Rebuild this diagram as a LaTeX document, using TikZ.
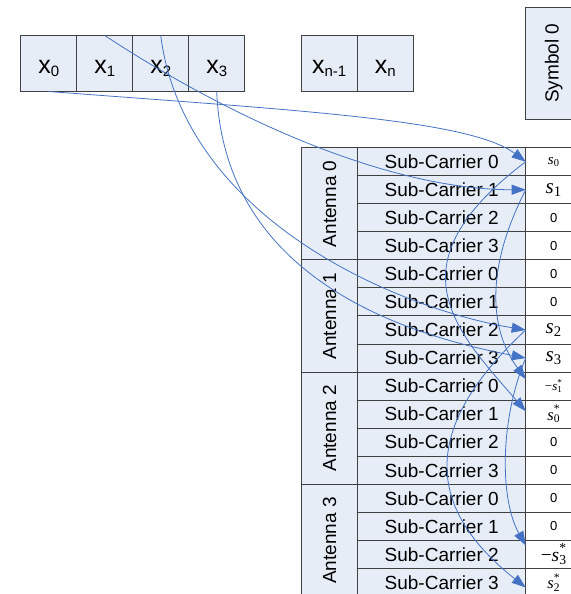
\documentclass[tikz,border=0pt]{standalone}
\usepackage{fontspec}
\setmainfont{Liberation Sans}
\newfontfamily\valfont{Liberation Serif}
\usetikzlibrary{arrows.meta}
\definecolor{cellfill}{RGB}{231,237,247}
\definecolor{cellline}{RGB}{64,64,64}
\definecolor{mapblue}{RGB}{68,114,196}
\newcommand{\xsub}[1]{x\raisebox{-3pt}{\fontsize{15}{15}\selectfont #1}}
% size, sign, index, star
\newcommand{\sval}[4]{{\valfont\fontsize{#1}{#1}\selectfont
  #2\textit{s}\makebox[0pt][l]{\raisebox{1pt}{\textsuperscript{#4}}}\textsubscript{#3}}}
\tikzset{
  cell/.style={draw=cellline,line width=1pt,fill=cellfill,inner sep=0pt,outer sep=0pt},
  xbox/.style={cell,minimum width=56pt,minimum height=56pt,
    text height=22pt,text depth=2pt,font=\fontsize{25}{30}\selectfont},
  carrier/.style={cell,minimum width=168pt,minimum height=28.05pt,
    font=\fontsize{19}{22}\selectfont},
  antenna/.style={cell,minimum width=112.2pt,minimum height=56pt,rotate=90,
    font=\fontsize{19}{22}\selectfont},
  value/.style={cell,fill=white,minimum width=56pt,minimum height=28.05pt,
    font=\fontsize{13}{15}\selectfont},
  mapping/.style={draw=mapblue,line width=0.8pt,-{Triangle[length=14pt,width=10pt]}}
}
\begin{document}
\begin{tikzpicture}[x=1pt,y=-1pt]
  \useasboundingbox (0,0) rectangle (570,594);
  % input symbols
  \node[xbox] (x0) at (48.7,63.5) {\xsub{0}};
  \node[xbox] (x1) at (104.7,63.5) {\xsub{1}};
  \node[xbox] (x2) at (160.7,63.5) {\xsub{2}};
  \node[xbox] (x3) at (216.7,63.5) {\xsub{3}};
  \node[xbox] (xn1) at (329.2,63.5) {\xsub{n-1}};
  \node[xbox] (xn) at (385.2,63.5) {\xsub{n}};
  \node[cell,minimum width=112pt,minimum height=56pt,rotate=90,
    font=\fontsize{19}{22}\selectfont] (sym) at (553.7,63.2) {Symbol 0};
  % antennas and sub-carriers
  \foreach \a in {0,...,3}
    \node[antenna] (ant\a) at (329.7,{203.8+112.2*\a}) {Antenna \a};
  \foreach \k in {0,...,15} {
    \pgfmathtruncatemacro{\sc}{mod(\k,4)}
    \node[carrier] (sc\k) at (441.7,{161.7+28.05*\k}) {Sub-Carrier \sc};
  }
  \foreach \k/\val in {0/\sval{15}{}{0}{},1/\sval{21}{}{1}{},2/0,3/0,4/0,5/0,
      6/\sval{21}{}{2}{},7/\sval{21}{}{3}{},8/\sval{13}{−}{1}{*},
      9/\sval{16.5}{}{0}{*},10/0,11/0,12/0,13/0,14/\sval{19.5}{−}{3}{*},
      15/\sval{16.5}{}{2}{*}}
    \node[value] (v\k) at (553.7,{161.7+28.05*\k}) {\val};
  % mapping of the inputs
  \draw[mapping] (x0.south) .. controls +(251,19) and +(-56,-42) .. (v0.west);
  \draw[mapping] (x1.north) .. controls +(145,95) and +(-126,0) .. (v1.west);
  \draw[mapping] (x2.north) .. controls +(24,185) and +(-126,-21) .. (v6.west);
  \draw[mapping] (x3.south) .. controls +(8,199) and +(-96,-19) .. (v7.west);
  % conjugates
  \draw[mapping] (v0.west) .. controls +(-136,103) and +(-71,-82) .. ([yshift=3pt]v9.west);
  \draw[mapping] (v1.west) .. controls +(-41,80) and +(-36,-49) .. ([yshift=7pt]v8.west);
  \draw[mapping] (v6.west) .. controls +(-100,93) and +(-106,-84) .. ([yshift=-5pt]v15.west);
  \draw[mapping] (v7.west) .. controls +(-26,62) and +(-26,-46) .. ([yshift=9pt]v14.west);
\end{tikzpicture}
\end{document}
